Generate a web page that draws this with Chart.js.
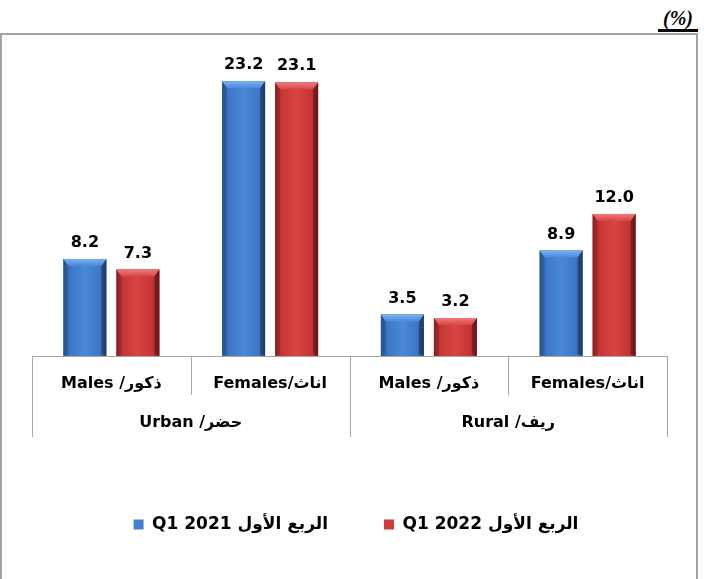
<!DOCTYPE html>
<html>
<head>
<meta charset="utf-8">
<script src="https://cdn.jsdelivr.net/npm/chart.js@4"></script>
<style>
  html, body { margin: 0; padding: 0; background: #fff; }
  #wrap { position: relative; width: 708px; height: 579px; overflow: hidden; }
  #frame { position: absolute; left: 0; top: 33px; width: 698px; height: 600px;
           box-sizing: border-box; border: 2px solid #a3a3a3; border-bottom: none; }
  #unit { position: absolute; left: 658px; top: 5px; width: 40px; height: 24px;
          border-bottom: 3px solid #000; font: italic bold 20px "Liberation Serif", serif;
          text-align: center; line-height: 26px; color: #000; }
  canvas { position: absolute; left: 0; top: 0; }
</style>
</head>
<body>
<div id="wrap">
  <div id="frame"></div>
  <div id="unit">(%)</div>
  <canvas id="c" width="708" height="579"></canvas>
</div>
<script>
// Sub-categories (inner axis row) and their groups (outer axis row)
const subLabels = ["Males /ذكور", "Females/اناث", "Males /ذكور", "Females/اناث"];
const groupLabels = ["Urban /حضر", "Rural /ريف"];
const groupSpans = [2, 2];

// Rates by quarter (%)
const q1_2021 = [8.2, 23.2, 3.5, 8.9];
const q1_2022 = [7.3, 23.1, 3.2, 12.0];
const seriesNames = ["Q1 2021 الربع الأول", "Q1 2022 الربع الأول"];

const FONT = '"DejaVu Sans", sans-serif';

const palettes = [
  { base: '#4080d0', stops: ['#2c5a98', '#3d76c6', '#4a88d8', '#3d76c6', '#2a5490'], top: '#7db2f0' },
  { base: '#d03c3c', stops: ['#982626', '#c73636', '#d94444', '#c43434', '#902222'], top: '#f07a7a' }
];

// Shaded, bevelled faces painted over each bar's own geometry
const bevelBars = {
  id: 'bevelBars',
  afterDatasetsDraw(chart) {
    const ctx = chart.ctx;
    chart.data.datasets.forEach((ds, di) => {
      const p = palettes[di];
      chart.getDatasetMeta(di).data.forEach(el => {
        const l = el.x - el.width / 2, r = el.x + el.width / 2, t = el.y, b = el.base;
        const d = 5;
        ctx.save();
        const g = ctx.createLinearGradient(l, 0, r, 0);
        [0, 0.15, 0.5, 0.85, 1].forEach((s, i) => g.addColorStop(s, p.stops[i]));
        ctx.fillStyle = g;
        ctx.fillRect(l, t, r - l, b - t);
        // top bevel
        const gt = ctx.createLinearGradient(0, t, 0, t + d + 2);
        gt.addColorStop(0, p.top);
        gt.addColorStop(1, p.stops[2]);
        ctx.fillStyle = gt;
        ctx.beginPath();
        ctx.moveTo(l, t); ctx.lineTo(r, t); ctx.lineTo(r - d, t + d + 2); ctx.lineTo(l + d, t + d + 2);
        ctx.closePath(); ctx.fill();
        // side bevels
        ctx.fillStyle = '#000';
        ctx.globalAlpha = 0.3;
        ctx.beginPath();
        ctx.moveTo(r, t); ctx.lineTo(r, b); ctx.lineTo(r - d, b - 2); ctx.lineTo(r - d, t + d + 2);
        ctx.closePath(); ctx.fill();
        ctx.globalAlpha = 0.12;
        ctx.beginPath();
        ctx.moveTo(l, t); ctx.lineTo(l, b); ctx.lineTo(l + d, b - 2); ctx.lineTo(l + d, t + d + 2);
        ctx.closePath(); ctx.fill();
        ctx.restore();
      });
    });
  }
};

// Value labels above each bar
const valueLabels = {
  id: 'valueLabels',
  afterDatasetsDraw(chart) {
    const ctx = chart.ctx;
    ctx.save();
    ctx.font = 'bold 16px ' + FONT;
    ctx.fillStyle = '#000';
    ctx.textAlign = 'center';
    ctx.textBaseline = 'alphabetic';
    chart.data.datasets.forEach((ds, di) => {
      chart.getDatasetMeta(di).data.forEach((el, i) => {
        ctx.fillText(ds.data[i].toFixed(1), el.x, el.y - 12);
      });
    });
    ctx.restore();
  }
};

// Two-level category axis: separators and group captions
const groupAxis = {
  id: 'groupAxis',
  afterDraw(chart) {
    const xs = chart.scales.x, ctx = chart.ctx;
    const y0 = chart.chartArea.bottom;
    const half = (xs.getPixelForValue(1) - xs.getPixelForValue(0)) / 2;
    const edges = subLabels.map((_, i) => xs.getPixelForValue(i) - half);
    edges.push(xs.getPixelForValue(subLabels.length - 1) + half);
    const outer = new Set([0]);
    let acc = 0;
    groupSpans.forEach(n => { acc += n; outer.add(acc); });
    ctx.save();
    ctx.strokeStyle = '#a6a6a6';
    ctx.lineWidth = 1;
    edges.forEach((x, i) => {
      const xx = Math.round(x) + 0.5;
      ctx.beginPath();
      ctx.moveTo(xx, y0);
      ctx.lineTo(xx, outer.has(i) ? y0 + 81 : y0 + 39);
      ctx.stroke();
    });
    ctx.font = 'bold 16px ' + FONT;
    ctx.fillStyle = '#000';
    ctx.textAlign = 'center';
    ctx.textBaseline = 'middle';
    let start = 0;
    groupLabels.forEach((g, gi) => {
      const end = start + groupSpans[gi];
      ctx.fillText(g, (edges[start] + edges[end]) / 2, y0 + 67);
      start = end;
    });
    ctx.restore();
  }
};

// Invisible side axes that only reserve margin around the plot
const spacerAxis = (pos, w) => ({
  type: 'linear', position: pos, display: true, min: 0, max: 25,
  grid: { display: false }, border: { display: false }, ticks: { display: false },
  afterFit(scale) { scale.width = w; }
});

new Chart(document.getElementById('c'), {
  type: 'bar',
  data: {
    labels: subLabels,
    datasets: [
      { label: seriesNames[0], data: q1_2021, backgroundColor: palettes[0].base },
      { label: seriesNames[1], data: q1_2022, backgroundColor: palettes[1].base }
    ]
  },
  options: {
    responsive: false,
    animation: false,
    devicePixelRatio: 1,
    layout: { padding: { left: 5, right: 1, top: 60, bottom: 36 } },
    datasets: { bar: { categoryPercentage: 0.668, barPercentage: 0.81, borderWidth: 0 } },
    scales: {
      x: {
        grid: { display: false },
        border: { display: true, color: '#a6a6a6', width: 1 },
        ticks: { color: '#000', font: { family: FONT, size: 16, weight: 'bold' }, padding: 10, maxRotation: 0 },
        afterFit(scale) { scale.height = 104; }
      },
      y: spacerAxis('left', 27),
      yRight: spacerAxis('right', 40)
    },
    plugins: {
      legend: {
        position: 'bottom',
        labels: {
          color: '#000',
          font: { family: FONT, size: 17, weight: 'bold' },
          boxWidth: 10, boxHeight: 10,
          padding: 56
        }
      },
      tooltip: { enabled: false }
    }
  },
  plugins: [bevelBars, valueLabels, groupAxis]
});
</script>
</body>
</html>
